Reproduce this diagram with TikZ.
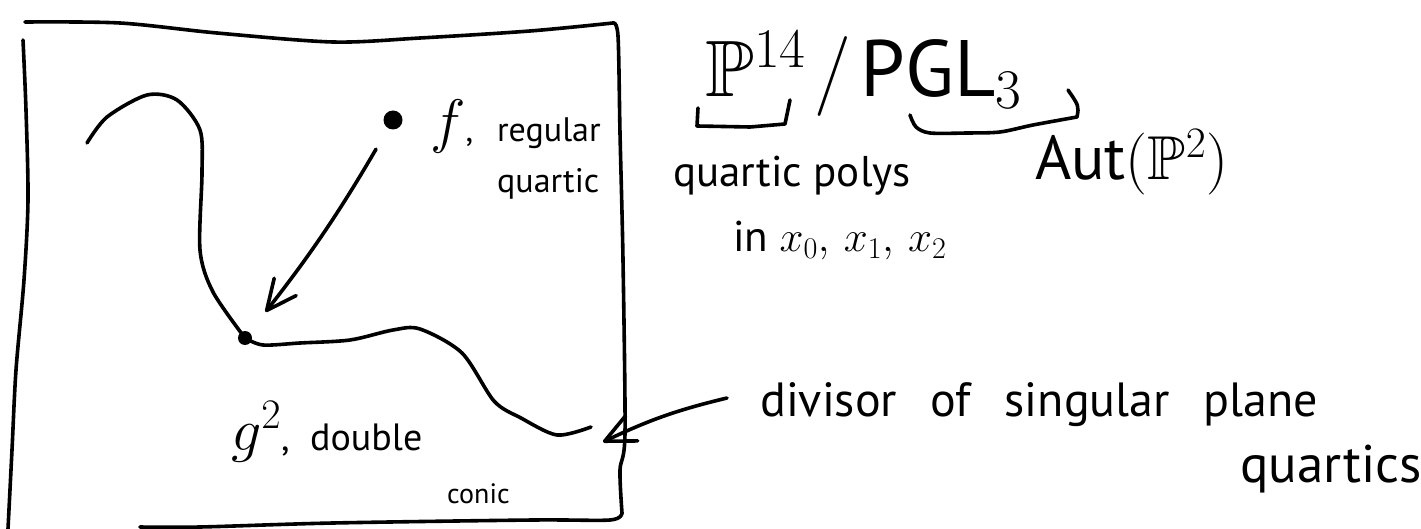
\RequirePackage{fix-cm}
\documentclass[tikz,border=0pt]{standalone}
\usepackage{amssymb}
\usepackage{fontspec}
\setmainfont{PT Sans}
\usetikzlibrary{arrows.meta}

% blackboard-bold letters at any size
\DeclareFontFamily{U}{msb}{}
\DeclareFontShape{U}{msb}{m}{n}{<-> msbm10}{}

% a point name set larger than the words that follow it
\newcommand\ptname[1]{{\fontsize{60}{66}\selectfont$#1$}}

\tikzset{
  pen/.style={line width=3.6pt, line cap=round, line join=round},
  hand/.style={inner sep=0pt, anchor=base west},
  dotpt/.style={circle, fill=black, inner sep=0pt},
  barb/.style={pen, -{Straight Barb[length=30pt, width=28pt, round]}},
}

\begin{document}
\begin{tikzpicture}[x=1pt, y=-1pt]
\useasboundingbox (0,0) rectangle (1421,529);
\fill[white] (0,0) rectangle (1421,529);

% the parameter space, drawn as a freehand box
\draw[pen] plot[smooth] coordinates {(25,22) (120,23) (217,33) (333,42) (420,38) (530,31) (613,23)};
\draw[pen] plot[smooth] coordinates {(613,23) (618,36) (620,133) (623,260) (625,433) (620,470) (622,513)};
\draw[pen] plot[smooth] coordinates {(622,513) (610,520) (533,520) (333,523) (200,527) (140,527)};
\draw[pen] plot[smooth] coordinates {(23,40) (26,110) (28,200) (24,280) (16,370) (12,450) (8,529)};

% the discriminant divisor, with a kink at the double conic
\draw[pen] plot[smooth] coordinates {(87,143) (107,117) (147,95) (177,100) (200,130) (202,173) (200,250) (213,292) (245,338)};
\draw[pen] plot[smooth] coordinates {(245,338) (263,345) (300,343) (350,340) (393,330) (420,329) (462,353) (494,401) (521,418) (557,435) (591,427)};

% points
\node[dotpt, minimum size=19pt] (fpt) at (393,120) {};
\node[dotpt, minimum size=14pt] (gpt) at (245,338) {};

% labels inside the box
\node[hand, font=\fontsize{34}{40}\selectfont] (flab) at (430,142) {\makebox[67pt][l]{\ptname{f},}regular};
\node[hand, font=\fontsize{34}{40}\selectfont] (flab2) at (497,193) {quartic};
\node[hand, font=\fontsize{38}{44}\selectfont] (glab) at (231,450) {\makebox[79pt][l]{\ptname{g^2},}double};
\node[hand, font=\fontsize{28}{34}\selectfont] (glab2) at (447,503) {conic};

% degeneration arrow
\draw[barb, shorten <=24pt, shorten >=26pt] (fpt) to[bend left=4] (gpt);

% the quotient and its pieces
\node[hand, font=\fontsize{80}{90}\selectfont] (quot) at (705,97) {$\mathbb{P}^{14}\mkern2mu/\mkern2mu\mathrm{PGL}_3$};
\draw[pen] (698,108) -- (697,126) -- (750,127) -- (785,124) -- (790,100);
\draw[pen] plot[smooth] coordinates {(910,115) (916,127) (930,133) (967,133) (1000,132) (1033,125) (1077,117)};
\draw[pen] (1077,117) .. controls (1079,106) .. (1068,90);

\node[hand, font=\fontsize{43}{50}\selectfont] (polys) at (673,187) {quartic polys};
\node[hand, font=\fontsize{43}{50}\selectfont] (polys2) at (733,252) {in $x_0,\,x_1,\,x_2$};
\node[hand, font=\fontsize{62}{70}\selectfont] (aut) at (1035,180) {$\mathrm{Aut}(\mathbb{P}^2)$};

% the divisor label and its pointer
\node[hand, font=\fontsize{48}{56}\selectfont] (divl) at (760,416) {\spaceskip=0.7em\relax divisor of singular plane};
\node[hand, font=\fontsize{53}{60}\selectfont] (divl2) at (1240,482) {quartics};
\coordinate (divtip) at (603,442);
\draw[barb] ([shift={(-33pt,18pt)}]divl.base west) to[bend right=6] (divtip);
\end{tikzpicture}
\end{document}
